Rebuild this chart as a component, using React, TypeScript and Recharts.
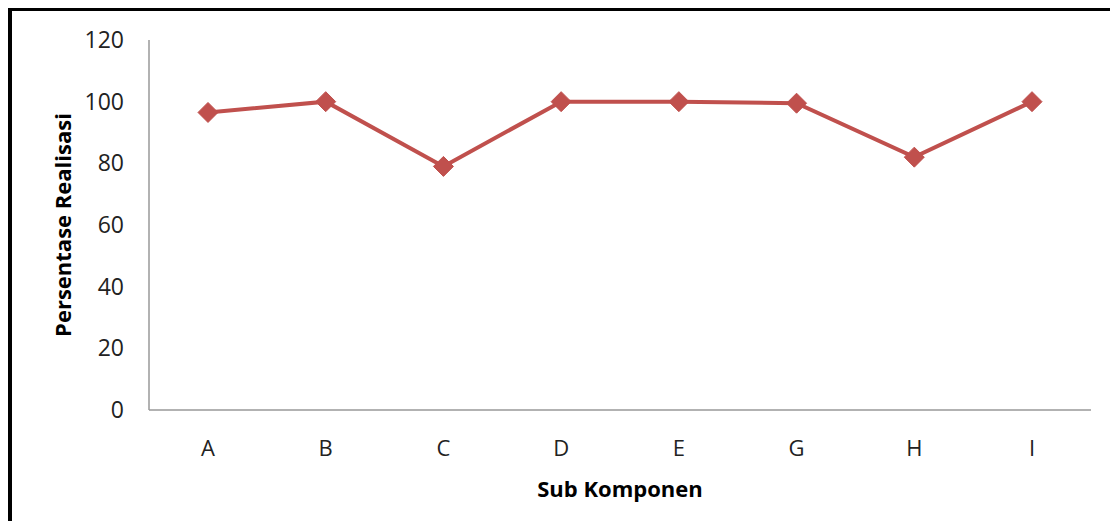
import React from 'react';
import { LineChart, Line, XAxis, YAxis, Label } from 'recharts';

const categories = ['A', 'B', 'C', 'D', 'E', 'G', 'H', 'I'];
const realisasi = [96.5, 100, 79, 100, 100, 99.5, 82, 100];
const yTicks = [0, 20, 40, 60, 80, 100, 120];

const data = categories.map((name, i) => ({ name, value: realisasi[i] }));

const FONT = '"Open Sans", sans-serif';
const RED = '#c0504d';

// diamond marker like the spreadsheet default
const Diamond = (props: any) => {
  const { cx, cy } = props;
  if (cx == null || cy == null) return null;
  const r = 10;
  return (
    <path
      d={`M${cx},${cy - r} L${cx + r},${cy} L${cx},${cy + r} L${cx - r},${cy} Z`}
      fill={RED}
      stroke={RED}
      strokeWidth={1}
    />
  );
};

const YTitle = (props: any) => {
  const { viewBox } = props;
  const cx = 62;
  const cy = viewBox.y + viewBox.height / 2;
  return (
    <text
      x={cx}
      y={cy}
      transform={`rotate(-90, ${cx}, ${cy})`}
      textAnchor="middle"
      dominantBaseline="central"
      fontFamily={FONT}
      fontWeight={700}
      fontSize={22}
      fill="#000"
    >
      Persentase Realisasi
    </text>
  );
};

const XTitle = (props: any) => {
  const { viewBox } = props;
  const cx = viewBox.x + viewBox.width / 2;
  return (
    <text
      x={cx}
      y={488}
      textAnchor="middle"
      dominantBaseline="central"
      fontFamily={FONT}
      fontWeight={700}
      fontSize={22}
      fill="#000"
    >
      Sub Komponen
    </text>
  );
};

export default function App() {
  return (
    <div style={{ position: 'relative', width: 1118, height: 529, margin: -8, overflow: 'hidden', background: '#fff' }}>
      <div
        style={{
          position: 'absolute',
          left: 8,
          top: 7,
          width: 1200,
          height: 600,
          border: '4px solid #000',
          boxSizing: 'border-box',
        }}
      />
      <div style={{ position: 'absolute', left: 0, top: 0 }}>
        <LineChart width={1118} height={529} data={data} margin={{ top: 40, right: 27, bottom: 59, left: 0 }}>
          <XAxis
            dataKey="name"
            height={60}
            padding={{ left: 59, right: 59 }}
            axisLine={{ stroke: '#999', strokeWidth: 1.5 }}
            tickLine={false}
            tickSize={6}
            tickMargin={24}
            tick={{ fill: '#222', fontSize: 22, fontFamily: FONT }}
          >
            <Label content={<XTitle />} />
          </XAxis>
          <YAxis
            width={149}
            domain={[0, 120]}
            ticks={yTicks}
            axisLine={{ stroke: '#999', strokeWidth: 1.5 }}
            tickLine={false}
            tickSize={6}
            tickMargin={19}
            tick={{ fill: '#222', fontSize: 23, fontFamily: FONT }}
          >
            <Label content={<YTitle />} />
          </YAxis>
          <Line
            type="linear"
            dataKey="value"
            stroke={RED}
            strokeWidth={4}
            dot={<Diamond />}
            activeDot={false}
            isAnimationActive={false}
          />
        </LineChart>
      </div>
    </div>
  );
}
